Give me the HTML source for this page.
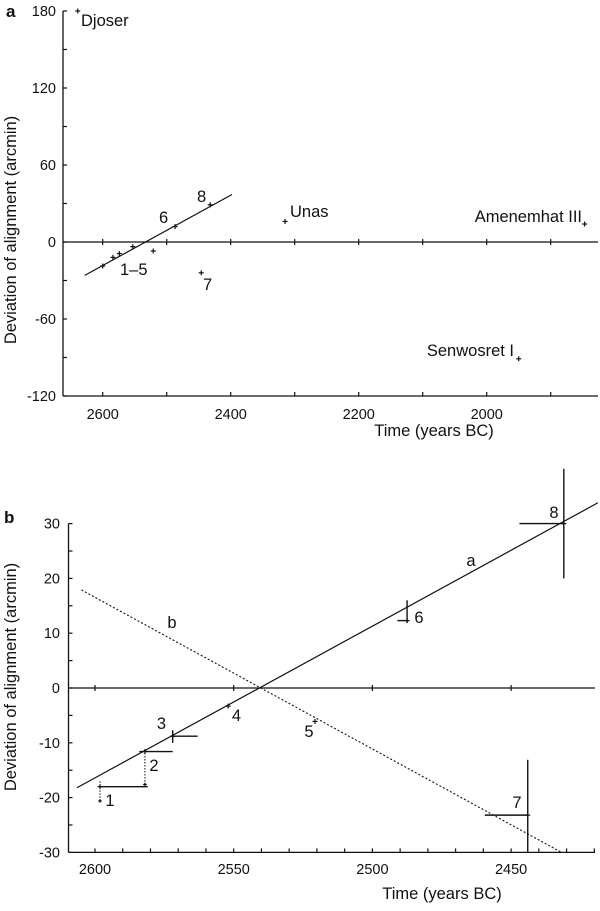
<!DOCTYPE html>
<html><head><meta charset="utf-8"><style>
body{margin:0;background:#fff;width:600px;height:911px;overflow:hidden}
svg{display:block;font-family:"Liberation Sans",Arial,sans-serif;fill:#111}
text{fill:#111}
</style></head><body>
<svg id="chart" width="600" height="911" viewBox="0 0 600 911" xmlns="http://www.w3.org/2000/svg"></svg>
<script>
// Panel a data
const aTicksX = [2600, 2400, 2200, 2000];
const aTicksY = [180, 120, 60, 0, -60, -120];
const aNames = ["Djoser", "Unas", "Amenemhat III", "Senwosret I", "7", "1-5a", "1-5b", "1-5c", "1-5d", "1-5e", "6", "8"];
const aYears = [2639, 2315, 1847, 1950, 2446, 2600, 2584, 2574, 2553, 2521, 2487, 2432];
const aDev = [180, 16, 14, -91, -24, -18.7, -12, -9, -3.6, -7, 12, 29];
const aFitYears = [2628, 2398];
const aFitDev = [-26, 37];

// Panel b data
const bTicksX = [2600, 2550, 2500, 2450];
const bTicksY = [30, 20, 10, 0, -10, -20, -30];
const bLineAYears = [2606.5, 2418.7];
const bLineADev = [-18.2, 33.8];
const bLineBYears = [2604.9, 2431.8];
const bLineBDev = [17.9, -30];
const bLabels = ["1", "2", "3", "4", "5", "6", "7", "8"];
const bYears = [2598.2, 2582, 2572, 2552, 2520.7, 2487.5, 2444, 2431];
const bDev = [-18, -11.6, -8.8, -3.3, -6.1, 12.3, -23.2, 30];
const bXErrLo = [2598.2, 2584, 2572, 2552, 2520.7, 2491, 2459.5, 2447];
const bXErrHi = [2581, 2572, 2563, 2552, 2520.7, 2487.5, 2444, 2431];
const bYErrLo = [-20.6, -17.6, -10, -3.3, -6.1, 11.9, -30, 20];
const bYErrHi = [-17, -11.6, -7.7, -3.3, -6.1, 16, -13.1, 40];

const NS = "http://www.w3.org/2000/svg";
const svg = document.getElementById('chart');
function el(tag, attrs, parent, txt) {
  const e = document.createElementNS(NS, tag);
  for (const k in attrs) e.setAttribute(k, attrs[k]);
  if (txt !== undefined) e.textContent = txt;
  (parent || svg).appendChild(e);
  return e;
}
function line(x1, y1, x2, y2, w, name, dash) {
  const l = el('line', {x1, y1, x2, y2, stroke: '#111', 'stroke-width': w || 1.2});
  if (dash) l.setAttribute('stroke-dasharray', dash);
  
  
  return l;
}
function text(x, y, s, name, size, anchor, extra) {
  const t = el('text', Object.assign({x, y, 'font-size': size || 16.5, 'text-anchor': anchor || 'start'}, extra || {}), svg, s);
  
  
  return t;
}
function plus(x, y, s, name) {
  line(x - s, y, x + s, y, 1.2, name);
  line(x, y - s, x, y + s, 1.2, name);
}

// ---------- Panel a ----------
const xa = v => 102.7 + (2600 - v) * 0.64;
const ya = v => 242 - v * 77 / 60;
text(6, 17, "a", "panel-a-label", 17, 'start', {'font-weight': 'bold'});
line(63, ya(180), 63, ya(-120), 1.3, "a-y-axis");
line(63, ya(-120), 598, ya(-120), 1.3, "a-x-axis");
line(63, ya(0), 598, ya(0), 1.3, "a-zero-line");
for (let v = 180; v >= -120; v -= 30) line(63, ya(v), 67, ya(v), 1.2, "a-y-tick");
aTicksY.forEach(v => text(56, ya(v) + 5, String(v), "a-y-tick-label", 14.5, 'end'));
for (let v = 2600; v >= 1900; v -= 100) {
  line(xa(v), ya(-120), xa(v), ya(-120) - 4, 1.2, "a-x-tick");
  line(xa(v), ya(0) - 3, xa(v), ya(0) + 3, 1.2, "a-zero-tick");
}
aTicksX.forEach(v => text(xa(v), 419, String(v), "a-x-tick-label", 14.5, 'middle'));
text(434, 436, "Time (years BC)", "a-x-axis-title", 16.5, 'middle');
text(0, 0, "Deviation of alignment (arcmin)", "a-y-axis-title", 16.5, 'middle', {transform: 'translate(16,230) rotate(-90)'});
line(xa(aFitYears[0]), ya(aFitDev[0]), xa(aFitYears[1]), ya(aFitDev[1]), 1.2, "a-fit-line");
aNames.forEach((n, i) => plus(xa(aYears[i]), ya(aDev[i]), 2.5, "a-point-" + n.toLowerCase().replace(/ /g, '-')));
text(81, 26, "Djoser", "a-label-djoser");
text(290, 217, "Unas", "a-label-unas");
text(582, 222, "Amenemhat III", "a-label-amenemhat", 16.5, 'end');
text(514, 356, "Senwosret I", "a-label-senwosret", 16.5, 'end');
text(203, 290, "7", "a-label-7");
text(120, 275, "1–5", "a-label-1-5");
text(159, 223, "6", "a-label-6");
text(197, 202, "8", "a-label-8");

// ---------- Panel b ----------
const xb = v => 95 + (2600 - v) * 2.774;
const yb = v => 688 - v * 5.48;
text(4, 523, "b", "panel-b-label", 17, 'start', {'font-weight': 'bold'});
line(68.5, yb(30), 68.5, yb(-30), 1.3, "b-y-axis");
line(68.5, yb(-30), 595, yb(-30), 1.3, "b-x-axis");
line(68.5, yb(0), 595, yb(0), 1.3, "b-zero-line");
for (let v = 30; v >= -30; v -= 5) line(68.5, yb(v), 72.5, yb(v), 1.2, "b-y-tick");
bTicksY.forEach(v => text(60, yb(v) + 5, String(v), "b-y-tick-label", 14.5, 'end'));
for (let v = 2600; v >= 2420; v -= 10) line(xb(v), yb(-30), xb(v), yb(-30) - 4, 1.2, "b-x-tick");
for (let v = 2600; v >= 2450; v -= 50) line(xb(v), yb(0) - 3, xb(v), yb(0) + 3, 1.2, "b-zero-tick");
bTicksX.forEach(v => text(xb(v), 874, String(v), "b-x-tick-label", 14.5, 'middle'));
text(442, 899, "Time (years BC)", "b-x-axis-title", 16.5, 'middle');
text(0, 0, "Deviation of alignment (arcmin)", "b-y-axis-title", 16.5, 'middle', {transform: 'translate(16,677) rotate(-90)'});
line(xb(bLineAYears[0]), yb(bLineADev[0]), xb(bLineAYears[1]), yb(bLineADev[1]), 1.2, "b-fit-line-a");
line(xb(bLineBYears[0]), yb(bLineBDev[0]), xb(bLineBYears[1]), yb(bLineBDev[1]), 1.1, "b-fit-line-b", "2,2");
bLabels.forEach((n, i) => {
  const x = xb(bYears[i]), y = yb(bDev[i]);
  line(xb(bXErrLo[i]), y, xb(bXErrHi[i]), y, 1.4, "b-xerr-" + n);
  const dotted = (n === "1" || n === "2");
  line(x, yb(bYErrLo[i]), x, yb(bYErrHi[i]), dotted ? 1 : 1.4, "b-yerr-" + n, dotted ? "1.5,1.5" : null);
  plus(x, y, 2.5, "b-point-" + n);
});
plus(xb(2598.2), yb(-20.6), 1.8, "b-point-1-alt");
plus(xb(2582), yb(-17.6), 1.8, "b-point-2-alt");
text(110, 806, "1", "b-label-1", 16.5, 'middle');
text(154, 771, "2", "b-label-2", 16.5, 'middle');
text(161.5, 729, "3", "b-label-3", 16.5, 'middle');
text(236.5, 721, "4", "b-label-4", 16.5, 'middle');
text(309, 737, "5", "b-label-5", 16.5, 'middle');
text(419, 623, "6", "b-label-6", 16.5, 'middle');
text(517, 808, "7", "b-label-7", 16.5, 'middle');
text(554, 518, "8", "b-label-8", 16.5, 'middle');
text(471, 566, "a", "b-label-a", 16.5, 'middle');
text(172, 628, "b", "b-label-b", 16.5, 'middle');
</script>
</body></html>
